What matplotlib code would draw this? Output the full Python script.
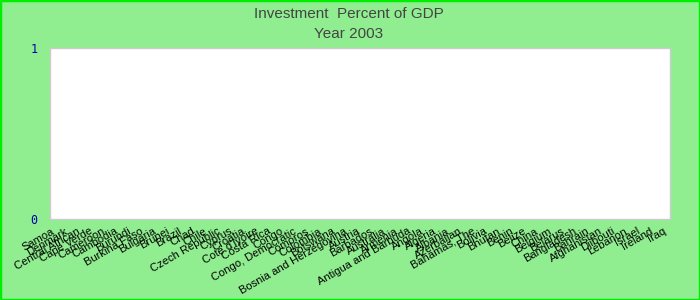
import matplotlib
matplotlib.use('Agg')
import matplotlib.pyplot as plt
import numpy as np

countries = ['Samoa', 'Denmark', 'Central African', 'Cape Verde', 'Cameroon',
             'Cambodia', 'Burundi', 'Burkina Faso', 'Bulgaria', 'Brunei', 'Brazil',
             'Chad', 'Chile', 'Czech Republic', 'Cyprus', 'Croatia', "Cote d'Ivoire",
             'Costa Rica', 'Congo', 'Congo, Democratic', 'Comoros', 'Colombia',
             'Botswana', 'Bosnia and Herzegovina', 'Austria', 'Barbados', 'Australia',
             'Armenia', 'Antigua and Barbuda', 'Angola', 'Algeria', 'Albania',
             'Azerbaijan', 'Bahamas, The', 'Bolivia', 'Bhutan', 'Benin', 'Belize',
             'China', 'Belgium', 'Belarus', 'Bangladesh', 'Bahrain', 'Afghanistan',
             'Djibouti', 'Lebanon', 'Israel', 'Ireland', 'Iraq']
values = [0] * len(countries)
yticks = [0, 1]

fig = plt.figure(figsize=(7, 3), dpi=100, facecolor='#90EE90')
ax = fig.add_axes([50/700, 1 - 219/300, 620/700, 171/300])
ax.set_facecolor('white')

x = np.arange(len(countries))
ax.bar(x, values, width=0.6, color='#3366cc')
ax.set_xlim(-0.1, len(countries) - 0.4)
ax.set_ylim(0, 1)

ax.set_yticks(yticks)
ax.set_yticklabels([str(t) for t in yticks], color='#0000aa',
                   family='DejaVu Sans Mono', fontsize=8.5)
ax.tick_params(axis='y', length=0, pad=9)
ax.set_xticks(x)
ax.set_xticklabels(countries, rotation=30, ha='right', rotation_mode='anchor',
                   fontsize=8, family='Liberation Sans', color='black')
ax.tick_params(axis='x', length=0, pad=5)

for s in ax.spines.values():
    s.set_color('#cccccc')
    s.set_linewidth(1)

fig.text(0.498, 0.953, 'Investment  Percent of GDP', ha='center', va='center',
         fontsize=11, color='#444444', family='Liberation Sans')
fig.text(0.498, 0.887, 'Year 2003', ha='center', va='center',
         fontsize=11, color='#444444', family='Liberation Sans')

border = plt.Rectangle((0, 0), 1, 1, transform=fig.transFigure, fill=False,
                       edgecolor='#00ee00', linewidth=2.5)
fig.patches.append(border)

fig.savefig('out.png', dpi=100, facecolor=fig.get_facecolor())
